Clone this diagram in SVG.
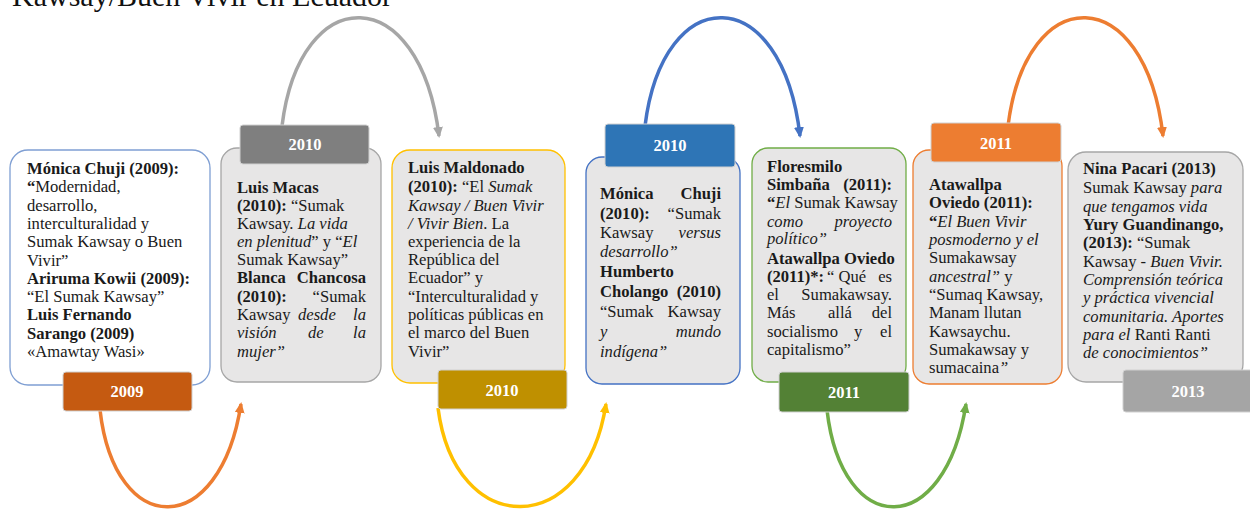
<svg xmlns="http://www.w3.org/2000/svg" width="1250" height="511" viewBox="0 0 1250 511">
<style>
.t{font-family:"Liberation Serif","Times New Roman",serif;font-size:16.6px;fill:#1a1a1a}
.b{font-weight:bold}
.i{font-style:italic}
.e{text-anchor:end}
.card{fill:#e7e6e6;stroke-width:1.3}
.lab{stroke:#d0d0d0;stroke-width:1}
.lt{font-family:"Liberation Serif","Times New Roman",serif;font-size:16.5px;font-weight:bold;fill:#fff;text-anchor:middle}
.arc{fill:none;stroke-width:3.5}
.title{font-family:"Liberation Serif","Times New Roman",serif;font-size:30px;fill:#111}
</style>
<defs>
<marker id="mGray" markerUnits="userSpaceOnUse" markerWidth="12" markerHeight="10" refX="9" refY="5" orient="auto"><path d="M0,0 L11,5 L0,10 z" fill="#a6a6a6"/></marker>
<marker id="mBlue" markerUnits="userSpaceOnUse" markerWidth="12" markerHeight="10" refX="9" refY="5" orient="auto"><path d="M0,0 L11,5 L0,10 z" fill="#4472c4"/></marker>
<marker id="mOrange" markerUnits="userSpaceOnUse" markerWidth="12" markerHeight="10" refX="9" refY="5" orient="auto"><path d="M0,0 L11,5 L0,10 z" fill="#ed7d31"/></marker>
<marker id="mYellow" markerUnits="userSpaceOnUse" markerWidth="12" markerHeight="10" refX="9" refY="5" orient="auto"><path d="M0,0 L11,5 L0,10 z" fill="#ffc000"/></marker>
<marker id="mGreen" markerUnits="userSpaceOnUse" markerWidth="12" markerHeight="10" refX="9" refY="5" orient="auto"><path d="M0,0 L11,5 L0,10 z" fill="#70ad47"/></marker>
</defs>

<text class="title" x="12" y="6">Kawsay/Buen Vivir en Ecuador</text>

<g id="connectors">
<path class="arc" stroke="#a6a6a6" marker-end="url(#mGray)" d="M282,126 C300,-20 420,-20 439,136"/>
<path class="arc" stroke="#4472c4" marker-end="url(#mBlue)" d="M645,126 C663,-20 782,-20 800,136"/>
<path class="arc" stroke="#ed7d31" marker-end="url(#mOrange)" d="M1008,126 C1026,-20 1145,-20 1163,136"/>
<path class="arc" stroke="#ed7d31" marker-end="url(#mOrange)" d="M100,410 C115,540 220,540 241,404"/>
<path class="arc" stroke="#ffc000" marker-end="url(#mYellow)" d="M438,408 C455,540 585,540 606,404"/>
<path class="arc" stroke="#70ad47" marker-end="url(#mGreen)" d="M827,410 C842,540 945,540 966,404"/>
</g>

<g id="node-2009">
<rect x="10" y="150" width="200" height="235" rx="18" fill="#fff" stroke="#7f9fd3" stroke-width="1.3"/>
<text class="t" x="27"><tspan class="b" y="174">Mónica Chuji (2009):</tspan>
<tspan x="27" y="192"><tspan class="b">“</tspan>Modernidad,</tspan>
<tspan x="27" y="211">desarrollo,</tspan>
<tspan x="27" y="229">interculturalidad y</tspan>
<tspan x="27" y="247">Sumak Kawsay o Buen</tspan>
<tspan x="27" y="266">Vivir”</tspan>
<tspan x="27" y="284" class="b">Ariruma Kowii (2009):</tspan>
<tspan x="27" y="302">“El Sumak Kawsay”</tspan>
<tspan x="27" y="320" class="b">Luis Fernando</tspan>
<tspan x="27" y="339" class="b">Sarango (2009)</tspan>
<tspan x="27" y="357">«Amawtay Wasi»</tspan></text>
<rect class="lab" x="63" y="372" width="129" height="39" rx="3" fill="#c55a11"/>
<text class="lt" x="127" y="397">2009</text>
</g>

<g id="node-2010a">
<rect class="card" x="221" y="148" width="160" height="234" rx="16" stroke="#a6a6a6"/>
<rect class="lab" x="240" y="125" width="129" height="39" rx="3" fill="#7f7f7f"/>
<text class="lt" x="305" y="150">2010</text>
<text class="t" x="237" y="193"><tspan class="b">Luis Macas</tspan></text>
<text class="t" x="237" y="211"><tspan class="b">(2010):</tspan> “Sumak</text>
<text class="t" x="237" y="229">Kawsay. <tspan class="i">La vida</tspan></text>
<text class="t" x="237" y="247"><tspan class="i">en plenitud</tspan>” y “<tspan class="i">El</tspan></text>
<text class="t" x="237" y="265">Sumak Kawsay”</text>
<text class="t b" x="237" y="283">Blanca</text><text class="t b e" x="366" y="283">Chancosa</text>
<text class="t b" x="237" y="302">(2010):</text><text class="t e" x="366" y="302">“Sumak</text>
<text class="t" x="237" y="320">Kawsay</text><text class="t i" x="298" y="320">desde</text><text class="t i e" x="366" y="320">la</text>
<text class="t i" x="237" y="338">visión</text><text class="t i" x="308" y="338">de</text><text class="t i e" x="366" y="338">la</text>
<text class="t i" x="237" y="357">mujer”</text>
</g>

<g id="node-2010b">
<rect class="card" x="392" y="150" width="173" height="233" rx="18" stroke="#ffc000"/>
<text class="t" x="408" y="173"><tspan class="b">Luis Maldonado</tspan></text>
<text class="t" x="408" y="192"><tspan class="b">(2010):</tspan> “El <tspan class="i">Sumak</tspan></text>
<text class="t i" x="408" y="211">Kawsay / Buen Vivir</text>
<text class="t" x="408" y="229"><tspan class="i">/ Vivir Bien</tspan>. La</text>
<text class="t" x="408" y="247">experiencia de la</text>
<text class="t" x="408" y="265">República del</text>
<text class="t" x="408" y="283">Ecuador” y</text>
<text class="t" x="408" y="302">“Interculturalidad y</text>
<text class="t" x="408" y="320">políticas públicas en</text>
<text class="t" x="408" y="338">el marco del Buen</text>
<text class="t" x="408" y="357">Vivir”</text>
<rect class="lab" x="438" y="370" width="129" height="39" rx="3" fill="#bf9000"/>
<text class="lt" x="502" y="396">2010</text>
</g>

<g id="node-2010c">
<rect class="card" x="586" y="157" width="154" height="227" rx="16" stroke="#4472c4"/>
<rect class="lab" x="605" y="124" width="130" height="43" rx="3" fill="#2e75b6"/>
<text class="lt" x="670" y="151">2010</text>
<text class="t b" x="600" y="199">Mónica</text><text class="t b e" x="721" y="199">Chuji</text>
<text class="t b" x="600" y="219">(2010):</text><text class="t e" x="721" y="219">“Sumak</text>
<text class="t" x="600" y="238">Kawsay</text><text class="t i e" x="721" y="238">versus</text>
<text class="t i" x="600" y="257">desarrollo”</text>
<text class="t b" x="600" y="277">Humberto</text>
<text class="t b" x="600" y="297">Cholango</text><text class="t b e" x="721" y="297">(2010)</text>
<text class="t" x="600" y="317">“Sumak</text><text class="t e" x="721" y="317">Kawsay</text>
<text class="t i" x="600" y="337">y</text><text class="t i e" x="721" y="337">mundo</text>
<text class="t i" x="600" y="357">indígena”</text>
</g>

<g id="node-2011a">
<rect class="card" x="752" y="148" width="154" height="234" rx="16" stroke="#70ad47"/>
<text class="t b" x="767" y="172">Floresmilo</text>
<text class="t b" x="767" y="190">Simbaña</text><text class="t b e" x="892" y="190">(2011):</text>
<text class="t" x="767" y="208"><tspan class="b">“</tspan><tspan class="i">El</tspan> Sumak Kawsay</text>
<text class="t i" x="767" y="227">como</text><text class="t i e" x="892" y="227">proyecto</text>
<text class="t i" x="767" y="244">político”</text>
<text class="t b" x="767" y="264">Atawallpa Oviedo</text>
<text class="t b" x="767" y="282">(2011)*:</text><text class="t" x="827" y="282">“ Qué</text><text class="t e" x="892" y="282">es</text>
<text class="t" x="767" y="300">el</text><text class="t e" x="892" y="300">Sumakawsay.</text>
<text class="t" x="767" y="318">Más</text><text class="t" x="828" y="318">allá</text><text class="t e" x="892" y="318">del</text>
<text class="t" x="767" y="337">socialismo</text><text class="t" x="854" y="337">y</text><text class="t e" x="892" y="337">el</text>
<text class="t" x="767" y="355">capitalismo”</text>
<rect class="lab" x="779" y="372" width="130" height="40" rx="3" fill="#538135"/>
<text class="lt" x="844" y="398">2011</text>
</g>

<g id="node-2011b">
<rect class="card" x="913" y="150" width="149" height="234" rx="16" stroke="#ed7d31"/>
<rect class="lab" x="931" y="123" width="130" height="39" rx="3" fill="#ed7d31"/>
<text class="lt" x="996" y="149">2011</text>
<text class="t b" x="929" y="190">Atawallpa</text>
<text class="t b" x="929" y="208">Oviedo (2011):</text>
<text class="t" x="929" y="227"><tspan class="b">“</tspan><tspan class="i">El Buen Vivir</tspan></text>
<text class="t i" x="929" y="245">posmoderno y el</text>
<text class="t" x="929" y="263">Sumakawsay</text>
<text class="t" x="929" y="282"><tspan class="i">ancestral”</tspan> y</text>
<text class="t" x="929" y="300">“Sumaq Kawsay,</text>
<text class="t" x="929" y="318">Manam llutan</text>
<text class="t" x="929" y="337">Kawsaychu.</text>
<text class="t" x="929" y="355">Sumakawsay y</text>
<text class="t" x="929" y="373">sumacaina<tspan class="i">”</tspan></text>
</g>

<g id="node-2013">
<rect class="card" x="1068" y="152" width="175" height="230" rx="18" stroke="#a6a6a6"/>
<text class="t b" x="1083" y="174">Nina Pacari (2013)</text>
<text class="t" x="1083" y="193">Sumak Kawsay <tspan class="i">para</tspan></text>
<text class="t i" x="1083" y="212">que tengamos vida</text>
<text class="t b" x="1083" y="230">Yury Guandinango,</text>
<text class="t" x="1083" y="248"><tspan class="b">(2013):</tspan> “Sumak</text>
<text class="t" x="1083" y="267">Kawsay - <tspan class="i">Buen Vivir.</tspan></text>
<text class="t i" x="1083" y="285">Comprensión teórica</text>
<text class="t i" x="1083" y="303">y práctica vivencial</text>
<text class="t i" x="1083" y="322">comunitaria. Aportes</text>
<text class="t" x="1083" y="340"><tspan class="i">para el</tspan> Ranti Ranti</text>
<text class="t i" x="1083" y="358">de conocimientos”</text>
<rect class="lab" x="1123" y="370" width="130" height="42" rx="3" fill="#a5a5a5"/>
<text class="lt" x="1188" y="397">2013</text>
</g>
</svg>
